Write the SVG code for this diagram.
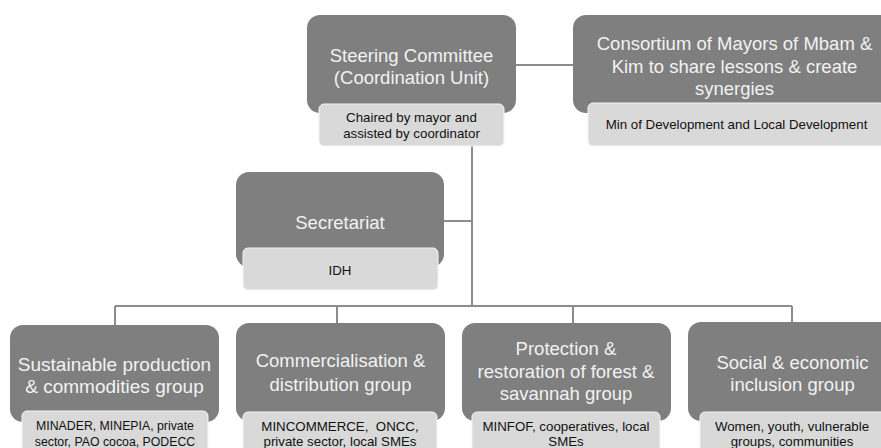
<svg xmlns="http://www.w3.org/2000/svg" width="881" height="448" viewBox="0 0 881 448">
  <style>
    .main { fill: #7f7f7f; }
    .sub { fill: #d9d9d9; stroke: #f4f4f4; stroke-width: 1; }
    .t-main { font-family: "Liberation Sans", Arial, sans-serif; font-size: 18.5px; fill: #f2f2f2; text-anchor: middle; }
    .t-sub { font-family: "Liberation Sans", Arial, sans-serif; font-size: 13.3px; fill: #111111; text-anchor: middle; }
    .link { fill: none; stroke: #8c8c8c; stroke-width: 2; }
  </style>

  <!-- connectors -->
  <g id="connectors">
    <path class="link" d="M516 65 H573"/>
    <path class="link" d="M472 146 V306"/>
    <path class="link" d="M444 221 H472"/>
    <path class="link" d="M115 306 H792"/>
    <path class="link" d="M115 306 V325"/>
    <path class="link" d="M337 306 V323"/>
    <path class="link" d="M573 306 V323"/>
    <path class="link" d="M792 306 V322"/>
  </g>

  <!-- top row -->
  <g id="steering-committee">
    <rect class="main" x="307" y="15" width="209" height="98" rx="13"/>
    <text class="t-main" x="411.5" y="62">Steering Committee</text>
    <text class="t-main" x="411.5" y="84">(Coordination Unit)</text>
    <rect class="sub" x="319" y="104" width="185" height="42" rx="5"/>
    <text class="t-sub" x="411.5" y="122">Chaired by mayor and</text>
    <text class="t-sub" x="411.5" y="137.5">assisted by coordinator</text>
  </g>

  <g id="consortium">
    <rect class="main" x="573" y="15" width="323" height="98" rx="13"/>
    <text class="t-main" x="734.5" y="50">Consortium of Mayors of Mbam &amp;</text>
    <text class="t-main" x="734.5" y="72.5">Kim to share lessons &amp; create</text>
    <text class="t-main" x="734.5" y="94.5">synergies</text>
    <rect class="sub" x="588" y="103" width="297" height="43" rx="5"/>
    <text class="t-sub" x="736.5" y="129">Min of Development and Local Development</text>
  </g>

  <!-- middle -->
  <g id="secretariat">
    <rect class="main" x="236" y="172" width="208" height="95" rx="13"/>
    <text class="t-main" x="340" y="228.5">Secretariat</text>
    <rect class="sub" x="243" y="248" width="195" height="42" rx="5"/>
    <text class="t-sub" x="340" y="275">IDH</text>
  </g>

  <!-- working groups -->
  <g id="group-production">
    <rect class="main" x="10" y="325" width="209" height="97" rx="13"/>
    <text class="t-main" x="114.5" y="370.5" style="font-size:19px">Sustainable production</text>
    <text class="t-main" x="114.5" y="393" style="font-size:19px">&amp; commodities group</text>
    <rect class="sub" x="22" y="411" width="186" height="45" rx="5"/>
    <text class="t-sub" x="115" y="430" style="font-size:12.3px">MINADER, MINEPIA, private</text>
    <text class="t-sub" x="115" y="446" style="font-size:12.3px">sector, PAO cocoa, PODECC</text>
  </g>

  <g id="group-commercialisation">
    <rect class="main" x="236" y="323" width="209" height="98" rx="13"/>
    <text class="t-main" x="340.5" y="367">Commercialisation &amp;</text>
    <text class="t-main" x="340.5" y="391">distribution group</text>
    <rect class="sub" x="243" y="412" width="194" height="44" rx="5"/>
    <text class="t-sub" x="340" y="430.5">MINCOMMERCE,&#160; ONCC,</text>
    <text class="t-sub" x="340" y="446">private sector, local SMEs</text>
  </g>

  <g id="group-protection">
    <rect class="main" x="462" y="323" width="209" height="98" rx="13"/>
    <text class="t-main" x="566" y="355">Protection &amp;</text>
    <text class="t-main" x="566" y="378">restoration of forest &amp;</text>
    <text class="t-main" x="566" y="400">savannah group</text>
    <rect class="sub" x="472" y="412" width="188" height="44" rx="5"/>
    <text class="t-sub" x="566" y="430.5">MINFOF, cooperatives, local</text>
    <text class="t-sub" x="566" y="446">SMEs</text>
  </g>

  <g id="group-inclusion">
    <rect class="main" x="688" y="322" width="209" height="99" rx="13"/>
    <text class="t-main" x="792.5" y="368.5">Social &amp; economic</text>
    <text class="t-main" x="792.5" y="391">inclusion group</text>
    <rect class="sub" x="700" y="412" width="186" height="44" rx="5"/>
    <text class="t-sub" x="792" y="430.5">Women, youth, vulnerable</text>
    <text class="t-sub" x="792" y="446">groups, communities</text>
  </g>
</svg>
